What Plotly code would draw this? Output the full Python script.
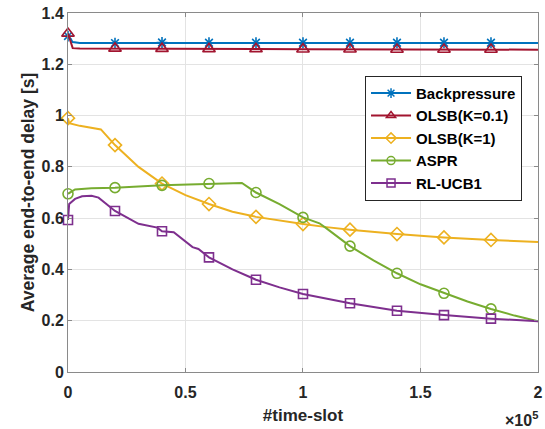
import plotly.graph_objects as go

# x in units of 1e5 time-slots
marker_x = [0, 0.2, 0.4, 0.6, 0.8, 1.0, 1.2, 1.4, 1.6, 1.8]

bp_x = [0, 0.02, 0.05, 0.2, 0.4, 0.6, 0.8, 1.0, 1.2, 1.4, 1.6, 1.8, 2.0]
bp_y = [1.31, 1.287, 1.283, 1.283, 1.285, 1.284, 1.284, 1.284, 1.284, 1.284, 1.284, 1.284, 1.283]
bp_m = [1.31, 1.283, 1.285, 1.284, 1.284, 1.284, 1.284, 1.284, 1.284, 1.284]

k01_x = [0, 0.02, 0.05, 0.2, 0.4, 0.6, 0.8, 1.0, 1.2, 1.4, 1.6, 1.8, 2.0]
k01_y = [1.32, 1.263, 1.262, 1.262, 1.261, 1.26, 1.26, 1.259, 1.259, 1.258, 1.258, 1.258, 1.257]
k01_m = [1.32, 1.262, 1.261, 1.26, 1.26, 1.259, 1.259, 1.258, 1.258, 1.258]

k1_x = [0, 0.005, 0.05, 0.1, 0.14, 0.2, 0.3, 0.4, 0.5, 0.6, 0.7, 0.8, 0.9, 1.0, 1.1, 1.2, 1.4, 1.6, 1.8, 2.0]
k1_y = [0.99, 0.97, 0.96, 0.952, 0.946, 0.885, 0.80, 0.735, 0.69, 0.655, 0.625, 0.605, 0.59, 0.577, 0.565, 0.555, 0.538, 0.525, 0.515, 0.507]
k1_m = [0.99, 0.885, 0.735, 0.655, 0.605, 0.577, 0.555, 0.538, 0.525, 0.515]

aspr_x = [0, 0.03, 0.1, 0.2, 0.4, 0.6, 0.74, 0.8, 0.9, 1.0, 1.07, 1.1, 1.2, 1.3, 1.4, 1.5, 1.6, 1.7, 1.8, 1.9, 2.0]
aspr_y = [0.695, 0.712, 0.717, 0.719, 0.728, 0.735, 0.737, 0.70, 0.655, 0.603, 0.58, 0.56, 0.491, 0.435, 0.385, 0.342, 0.307, 0.275, 0.246, 0.22, 0.198]
aspr_m = [0.695, 0.719, 0.728, 0.735, 0.70, 0.603, 0.491, 0.385, 0.307, 0.246]

ucb_x = [0, 0.005, 0.03, 0.06, 0.1, 0.13, 0.2, 0.3, 0.38, 0.4, 0.45, 0.53, 0.555, 0.6, 0.7, 0.8, 0.9, 1.0, 1.2, 1.4, 1.6, 1.8, 2.0]
ucb_y = [0.593, 0.655, 0.675, 0.685, 0.687, 0.68, 0.628, 0.578, 0.563, 0.549, 0.545, 0.487, 0.48, 0.447, 0.40, 0.36, 0.33, 0.304, 0.268, 0.239, 0.222, 0.208, 0.198]
ucb_m = [0.593, 0.628, 0.549, 0.447, 0.36, 0.304, 0.268, 0.239, 0.222, 0.208]

y_ticks = [0, 0.2, 0.4, 0.6, 0.8, 1.0, 1.2, 1.4]
y_tick_text = ["0", "0.2", "0.4", "0.6", "0.8", "1", "1.2", "1.4"]
x_ticks = [0, 0.5, 1.0, 1.5, 2.0]
x_tick_text = ["0", "0.5", "1", "1.5", "2"]

series = [
    ("Backpressure", "#0072BD", "asterisk-open", 9, bp_x, bp_y, bp_m),
    ("OLSB(K=0.1)", "#A2142F", "triangle-up-open", 11, k01_x, k01_y, k01_m),
    ("OLSB(K=1)", "#EDB120", "diamond-open", 10, k1_x, k1_y, k1_m),
    ("ASPR", "#77AC30", "circle-open", 10, aspr_x, aspr_y, aspr_m),
    ("RL-UCB1", "#7E2F8E", "square-open", 9, ucb_x, ucb_y, ucb_m),
]

fig = go.Figure()
for name, color, sym, size, lx, ly, my in series:
    fig.add_trace(go.Scatter(x=lx, y=ly, mode="lines", line=dict(color=color, width=2),
                             showlegend=False, hoverinfo="skip", cliponaxis=False))
    fig.add_trace(go.Scatter(x=marker_x, y=my, mode="markers",
                             marker=dict(symbol=sym, size=size, color=color, line=dict(width=1.6, color=color)),
                             showlegend=False, cliponaxis=False))
    fig.add_trace(go.Scatter(x=[None], y=[None], mode="lines+markers", name=f"<b>{name}</b>",
                             line=dict(color=color, width=2),
                             marker=dict(symbol=sym, size=8, color=color, line=dict(width=1.5, color=color))))

axis_common = dict(
    showgrid=True, gridcolor="#E3E3E3", gridwidth=1,
    showline=True, linecolor="#8A8A8A", linewidth=1, mirror="ticks",
    ticks="inside", ticklen=4, tickcolor="#8A8A8A",
    zeroline=False, automargin=False,
    tickfont=dict(family="Arial, Liberation Sans", size=16, color="#262626"),
)

fig.update_layout(
    width=545, height=429,
    margin=dict(l=68, r=7, t=13, b=57),
    paper_bgcolor="white", plot_bgcolor="white",
    font=dict(family="Arial, Liberation Sans", color="#262626"),
    xaxis=dict(range=[0, 2.0001], tickvals=x_ticks, ticktext=[f"<b>{t}</b>" for t in x_tick_text],
               ticklabelstandoff=6,
               title=dict(text="<b>#time-slot</b>", font=dict(size=17, color="#262626"), standoff=8),
               **axis_common),
    yaxis=dict(range=[0, 1.4001], tickvals=y_ticks, ticktext=[f"<b>{t}</b>" for t in y_tick_text],
               title=dict(text="<b>Average end-to-end delay [s]</b>", font=dict(size=17.5, color="#262626"), standoff=2),
               **axis_common),
    legend=dict(x=0.966, y=0.825, xanchor="right", yanchor="top",
                bgcolor="white", bordercolor="#262626", borderwidth=1,
                font=dict(family="Arial, Liberation Sans", size=15, color="#000000"),
                itemwidth=40, tracegroupgap=0),
    showlegend=True,
)

fig.add_annotation(text="<b>×10<sup>5</sup></b>", xref="paper", yref="paper",
                   x=1.005, y=-0.164, xanchor="right", yanchor="bottom", showarrow=False,
                   font=dict(family="Arial, Liberation Sans", size=16, color="#262626"))

fig.write_html("out.html", config={"displayModeBar": False},
               post_script="document.body.style.margin='0px';document.body.style.overflow='hidden';")
